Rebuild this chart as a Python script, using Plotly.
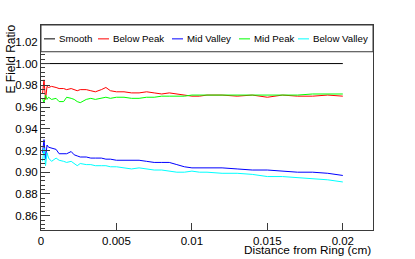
import plotly.graph_objects as go

# ---------------- data ----------------
distance_cm = [0.0001, 0.0002, 0.0003, 0.0004, 0.0005, 0.0007, 0.001, 0.0012, 0.0015, 0.0017,
               0.002, 0.0022, 0.0024, 0.0026, 0.003, 0.0033, 0.0036, 0.004, 0.0043, 0.0046,
               0.005, 0.0055, 0.006, 0.0065, 0.007, 0.0075, 0.008, 0.0085, 0.009, 0.0095,
               0.01, 0.0105, 0.011, 0.012, 0.013, 0.014, 0.015, 0.016, 0.017, 0.018, 0.019, 0.02]

smooth_x = [0.0, 0.02]
smooth_y = [1.0, 1.0]

below_peak = [0.972, 0.985, 0.967, 0.979, 0.978, 0.979, 0.978, 0.977, 0.977, 0.976,
              0.977, 0.976, 0.975, 0.976, 0.976, 0.975, 0.974, 0.976, 0.978, 0.975,
              0.974, 0.974, 0.973, 0.973, 0.974, 0.973, 0.972, 0.973, 0.972, 0.971,
              0.970, 0.970, 0.971, 0.971, 0.970, 0.971, 0.969, 0.971, 0.970, 0.970, 0.971, 0.970]

mid_peak = [0.968, 0.964, 0.971, 0.967, 0.969, 0.967, 0.968, 0.965, 0.965, 0.969,
            0.968, 0.967, 0.965, 0.964, 0.967, 0.968, 0.967, 0.968, 0.969, 0.968,
            0.969, 0.969, 0.968, 0.968, 0.969, 0.969, 0.970, 0.970, 0.970, 0.970,
            0.971, 0.971, 0.971, 0.971, 0.971, 0.971, 0.971, 0.971, 0.971, 0.972, 0.972, 0.972]

mid_valley = [0.918, 0.930, 0.912, 0.925, 0.923, 0.922, 0.921, 0.917, 0.917, 0.917,
              0.919, 0.916, 0.915, 0.914, 0.914, 0.913, 0.913, 0.913, 0.912, 0.912,
              0.911, 0.911, 0.911, 0.911, 0.910, 0.909, 0.909, 0.909, 0.907, 0.905,
              0.904, 0.904, 0.904, 0.904, 0.903, 0.902, 0.902, 0.901, 0.900, 0.900, 0.899, 0.897]

below_valley = [0.910, 0.922, 0.906, 0.918, 0.913, 0.910, 0.913, 0.911, 0.910, 0.909,
                0.910, 0.908, 0.906, 0.908, 0.907, 0.907, 0.906, 0.906, 0.906, 0.905,
                0.905, 0.904, 0.903, 0.904, 0.903, 0.902, 0.902, 0.901, 0.900, 0.900,
                0.901, 0.900, 0.900, 0.899, 0.899, 0.898, 0.896, 0.896, 0.895, 0.894, 0.893, 0.891]

series_names = ["Smooth", "Below Peak", "Mid Valley", "Mid Peak", "Below Valley"]
series_colors = ["#000000", "#ff0000", "#0000ff", "#00ff00", "#00ffff"]

x_tick_vals = [0, 0.005, 0.01, 0.015, 0.02]
x_tick_text = ["0", "0.005", "0.01", "0.015", "0.02"]
y_tick_vals = [0.86, 0.88, 0.90, 0.92, 0.94, 0.96, 0.98, 1.00, 1.02]
y_tick_text = ["0.86", "0.88", "0.90", "0.92", "0.94", "0.96", "0.98", "1.00", "1.02"]

x_title = "Distance from Ring (cm)"
y_title = "E Field Ratio"

# ---------------- layout geometry ----------------
W, H = 415, 259
L, R, T, B = 41, 42, 25, 27
PW, PH = W - L - R, H - T - B
FONT = "Liberation Sans, Arial, Helvetica, sans-serif"
FRAME = "#3a3a3a"


def px(xp):
    return (xp - L) / PW


def py(yp):
    return (H - B - yp) / PH


fig = go.Figure()

xs = [smooth_x, distance_cm, distance_cm, distance_cm, distance_cm]
ys = [smooth_y, below_peak, mid_valley, mid_peak, below_valley]
for name, color, x, y in zip(series_names, series_colors, xs, ys):
    fig.add_trace(go.Scatter(x=x, y=y, mode="lines", name=name,
                             line=dict(color=color, width=1), showlegend=False))

# legend box (ROOT-like, spanning the frame top)
shapes = [dict(type="rect", xref="paper", yref="paper", x0=0, x1=1, y0=py(52), y1=1,
               line=dict(color=FRAME, width=1), fillcolor="white", layer="above")]
annotations = []
leg_line_x = [44, 98, 172, 239, 298]
leg_y = 39
for name, color, lx in zip(series_names, series_colors, leg_line_x):
    shapes.append(dict(type="line", xref="paper", yref="paper", x0=px(lx), x1=px(lx + 11),
                       y0=py(leg_y), y1=py(leg_y), line=dict(color=color, width=1), layer="above"))
    annotations.append(dict(text=name, xref="paper", yref="paper", x=px(lx + 13), y=py(leg_y),
                            xanchor="left", yanchor="middle", showarrow=False,
                            font=dict(family=FONT, size=9.7, color="#000000")))

annotations.append(dict(text=x_title, xref="paper", yref="paper", x=1, y=0, xanchor="right",
                        yanchor="top", yshift=-11, showarrow=False,
                        font=dict(family=FONT, size=11.8, color="#000000")))
annotations.append(dict(text=y_title, xref="paper", yref="paper", x=0, y=1, xanchor="left",
                        yanchor="top", xshift=-L + 1, yshift=2, textangle=-90, showarrow=False,
                        font=dict(family=FONT, size=12, color="#000000")))

fig.update_layout(
    width=W, height=H,
    margin=dict(l=L, r=R, t=T, b=B, pad=0),
    paper_bgcolor="white", plot_bgcolor="white",
    shapes=shapes, annotations=annotations,
    font=dict(family=FONT, size=11.5, color="#000000"),
)
fig.update_xaxes(range=[0, 0.022], showgrid=False, zeroline=False,
                 showline=True, linecolor=FRAME, linewidth=1, mirror=True,
                 ticks="inside", ticklen=7, tickcolor=FRAME, tickwidth=1,
                 tickmode="array", tickvals=x_tick_vals, ticktext=x_tick_text,
                 tickfont=dict(family=FONT, size=11.5, color="#000000"))
fig.update_yaxes(range=[0.8468, 1.0355], showgrid=False, zeroline=False,
                 showline=True, linecolor=FRAME, linewidth=1, mirror=True,
                 ticks="inside", ticklen=9, tickcolor=FRAME, tickwidth=1,
                 tickmode="array", tickvals=y_tick_vals, ticktext=y_tick_text,
                 minor=dict(ticks="inside", ticklen=4, tickcolor=FRAME, dtick=0.004, tick0=0.86),
                 tickfont=dict(family=FONT, size=11.5, color="#000000"))

fig.write_html("out.html", config={"displayModeBar": False},
               post_script="document.body.style.margin='0';document.body.style.overflow='hidden';")
